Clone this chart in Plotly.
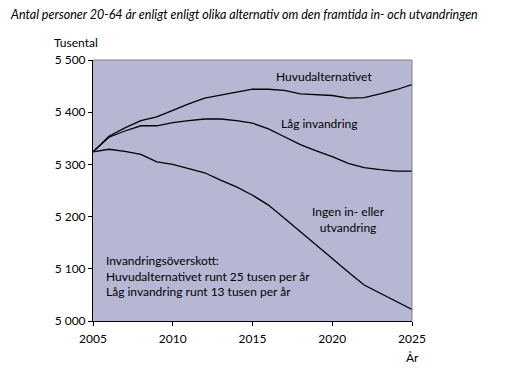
import plotly.graph_objects as go

years = list(range(2005, 2026))
huvud = [5324, 5354, 5370, 5384, 5391, 5404, 5416, 5427, 5433, 5439, 5444,
         5444, 5442, 5435, 5433, 5432, 5427, 5428, 5435, 5443, 5453]
lag = [5324, 5352, 5364, 5374, 5374, 5380, 5384, 5387, 5387, 5384, 5379,
       5368, 5353, 5338, 5326, 5315, 5302, 5294, 5290, 5287, 5287]
ingen = [5324, 5329, 5325, 5319, 5305, 5300, 5292, 5284, 5270, 5257, 5241,
         5222, 5197, 5171, 5146, 5120, 5094, 5069, 5053, 5037, 5022]

y_ticks = [5000, 5100, 5200, 5300, 5400, 5500]
y_labels = ["5 000", "5 100", "5 200", "5 300", "5 400", "5 500"]
x_ticks = [2005, 2010, 2015, 2020, 2025]

FONT = "Lato"
PW, PH = 319, 261

fig = go.Figure()
for name, vals in [("Huvudalternativet", huvud), ("Låg invandring", lag),
                   ("Ingen in- eller utvandring", ingen)]:
    fig.add_trace(go.Scatter(x=years, y=vals, mode="lines", name=name,
                             line=dict(color="black", width=1.3),
                             showlegend=False, hoverinfo="skip"))

fig.update_layout(
    width=528, height=389,
    margin=dict(l=85, r=124, t=52, b=76),
    paper_bgcolor="white",
    plot_bgcolor="#b8b7d3",
    font=dict(family=FONT, size=12, color="black"),
    xaxis=dict(range=[2005, 2025], tickvals=x_ticks, ticks="outside",
               ticklen=4, tickcolor="black", showgrid=False, zeroline=False,
               showline=True, linecolor="black", linewidth=1,
               mirror=False, ticklabelstandoff=3,
               tickfont=dict(size=12, family=FONT)),
    yaxis=dict(range=[5000, 5500], tickvals=y_ticks, ticktext=y_labels,
               ticks="outside", ticklen=4, tickcolor="black", showgrid=False,
               zeroline=False, showline=True, linecolor="black", linewidth=1,
               tickfont=dict(size=12, family=FONT)),
    shapes=[
        dict(type="line", xref="paper", yref="paper", x0=0, x1=1, y0=1, y1=1,
             line=dict(color="#808080", width=1)),
        dict(type="line", xref="paper", yref="paper", x0=1, x1=1, y0=0, y1=1,
             line=dict(color="#808080", width=1)),
    ],
    annotations=[
        dict(text="<i>Antal personer 20-64 år enligt enligt olika alternativ om den framtida in- och utvandringen</i>",
             xref="paper", yref="paper", x=-85/PW, y=1 + 46/PH, xanchor="left",
             yanchor="middle", showarrow=False, font=dict(size=12.5, family=FONT)),
        dict(text="Tusental", xref="paper", yref="paper", x=-41/PW, y=1 + 18/PH,
             xanchor="left", yanchor="middle", showarrow=False,
             font=dict(size=12, family=FONT)),
        dict(text="År", xref="x", yref="paper", x=2025, y=-36/PH,
             xanchor="center", yanchor="middle", showarrow=False,
             font=dict(size=12, family=FONT)),
        dict(text="Huvudalternativet", x=2019.5, y=5468, xanchor="center",
             yanchor="middle", showarrow=False, font=dict(size=12, family=FONT)),
        dict(text="Låg invandring", x=2019.2, y=5379, xanchor="center",
             yanchor="middle", showarrow=False, font=dict(size=12, family=FONT)),
        dict(text="Ingen in- eller<br>utvandring", x=2021, y=5195,
             xanchor="center", yanchor="middle", showarrow=False, align="center",
             font=dict(size=12, family=FONT)),
        dict(text="Invandringsöverskott:<br>Huvudalternativet runt 25 tusen per år<br>Låg invandring runt 13 tusen per år",
             x=2005.7, y=5087, xanchor="left", yanchor="middle", showarrow=False,
             align="left", font=dict(size=12, family=FONT)),
    ],
)

fig.write_html("out.html")
